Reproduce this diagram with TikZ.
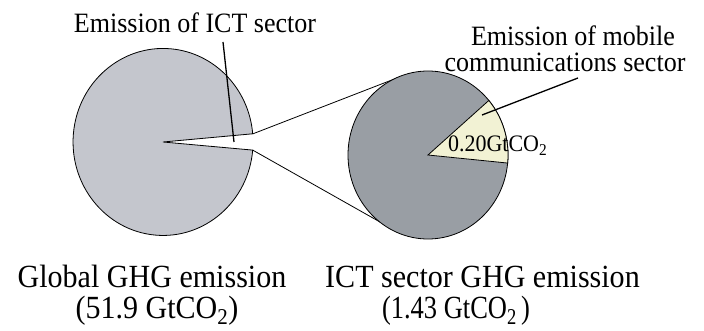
\documentclass[tikz,border=0pt]{standalone}
\usepackage{fontspec}
\setmainfont{Liberation Serif}
\definecolor{globalgray}{RGB}{196,198,205}
\definecolor{ictgray}{RGB}{153,158,164}
\definecolor{mobileyellow}{RGB}{242,242,212}
\newcommand{\condtxt}[1]{\scalebox{0.93}[1]{#1}}
\begin{document}
\begin{tikzpicture}[x=1pt,y=-1pt,
  pieline/.style={draw=black, line width=0.8pt},
  zoomline/.style={draw=black, line width=0.8pt},
  leader/.style={draw=black, line width=1.3pt},
  txtbig/.style={inner sep=0pt, font=\fontsize{32.3}{33}\selectfont},
  txtmid/.style={inner sep=0pt, font=\fontsize{28}{29}\selectfont},
  txtsmall/.style={inner sep=0pt, font=\fontsize{23.6}{24}\selectfont}]
\useasboundingbox (0,0) rectangle (704,331);

% centres
\coordinate (gc) at (163,142);
\coordinate (ic) at (428,155);

% zoom connector end points
\coordinate (wtop) at (252.7,133.9);
\coordinate (wbot) at (252.7,150.1);
\coordinate (ztop) at (397,78);
\coordinate (zbot) at (380,222);

% global pie with ICT wedge cut out
\path[pieline, fill=globalgray] (gc) -- (wbot)
  arc[start angle=5, end angle=355, x radius=90, y radius=93.5] -- cycle;

% zoom lines
\draw[zoomline] (wtop) -- (ztop);
\draw[zoomline] (wbot) -- (zbot);

% ICT pie
\path[pieline, fill=ictgray] (ic) ellipse[x radius=80, y radius=84];
\path[pieline, fill=mobileyellow] (ic) -- ++(5.5:80 and 84)
  arc[start angle=5.5, end angle=-40.5, x radius=80, y radius=84] -- cycle;

% labels
\node[txtmid, anchor=base] (ictlabel) at (195,33) {\condtxt{Emission of ICT sector}};
\coordinate (ictleaderend) at (234,142);
\coordinate (ictleaderstart) at (223,42);
\draw[leader] (ictleaderstart) -- (ictleaderend);

\node[txtmid, anchor=base] (moblabelA) at (573,46) {\condtxt{Emission of mobile}};
\node[txtmid, anchor=base] (moblabelB) at (565,72) {\condtxt{communications sector}};
\coordinate (mobleaderstart) at (578,78);
\coordinate (mobleaderend) at (482,115);
\draw[leader] (mobleaderstart) -- (mobleaderend);

\node[txtsmall, anchor=base west] (mobvalue) at (448,152) {\condtxt{0.20GtCO\textsubscript{2}}};

\node[txtbig, anchor=base] (globalA) at (152,287) {\condtxt{Global GHG emission}};
\node[txtbig, anchor=base] (globalB) at (157,318) {\condtxt{(51.9 GtCO\textsubscript{2})}};
\node[txtbig, anchor=base] (ictA) at (482.5,287) {\condtxt{ICT sector GHG emission}};
\node[txtbig, anchor=base] (ictB) at (456,318) {\scalebox{0.82}[1]{(1.43 GtCO\textsubscript{2}\,)}};
\end{tikzpicture}
\end{document}
